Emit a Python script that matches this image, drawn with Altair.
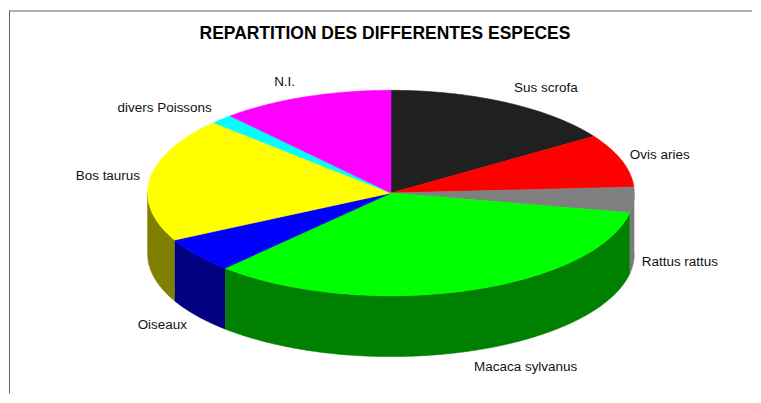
import math
import altair as alt
import pandas as pd

# ---- data ----
species = ["Sus scrofa", "Ovis aries", "Rattus rattus", "Macaca sylvanus",
           "Oiseaux", "Bos taurus", "divers Poissons", "N.I."]
shares = [15.7, 8.4, 4.0, 33.9, 5.5, 19.6, 1.5, 11.5]
top_colors = ["#202020", "#FF0000", "#808080", "#00FF00",
              "#0000FF", "#FFFF00", "#00FFFF", "#FF00FF"]
side_colors = ["#101010", "#800000", "#7A7A7A", "#008000",
               "#000080", "#808000", "#008080", "#800080"]
title_text = "REPARTITION DES DIFFERENTES ESPECES"

# ---- layout (plot coordinates, origin at page (8, 8)) ----
W, H = 745, 386
CX, CY, RX, RY, DEPTH = 383.0, 185.0, 244.0, 103.0, 61.0
FONT = "Liberation Sans"


def pt(t_deg, drop=0.0):
    r = math.radians(t_deg)
    return CX + RX * math.sin(r), CY - RY * math.cos(r) + drop


total = sum(shares)
starts, ends = [], []
acc = 0.0
for v in shares:
    starts.append(acc * 360.0 / total)
    acc += v
    ends.append(acc * 360.0 / total)


def arc(t1, t2, step=0.5):
    n = max(2, int(abs(t2 - t1) / step) + 1)
    return [t1 + (t2 - t1) * i / (n - 1) for i in range(n)]


top_rows, side_rows = [], []
for i, name in enumerate(species):
    t1, t2 = starts[i], ends[i]
    k = 0
    top_rows.append({"part": name, "k": k, "x": CX, "y": CY}); k += 1
    for t in arc(t1, t2):
        x, y = pt(t)
        top_rows.append({"part": name, "k": k, "x": x, "y": y}); k += 1
    top_rows.append({"part": name, "k": k, "x": CX, "y": CY})

    lo, hi = max(t1, 90.0), min(t2, 270.0)
    if hi > lo:
        key = name + " (côté)"
        k = 0
        for t in arc(lo, hi):
            x, y = pt(t)
            side_rows.append({"part": key, "k": k, "x": x, "y": y}); k += 1
        for t in arc(hi, lo):
            x, y = pt(t, DEPTH)
            side_rows.append({"part": key, "k": k, "x": x, "y": y}); k += 1

label_rows = []
for i, name in enumerate(species):
    m = (starts[i] + ends[i]) / 2.0
    r = math.radians(m)
    x, y = pt(m)
    if math.cos(r) < 0:
        y += DEPTH
    y -= 16 * math.cos(r)
    if math.sin(r) >= 0:
        label_rows.append({"label": name, "x": x + 8, "y": y, "side": "right"})
    else:
        label_rows.append({"label": name, "x": x - 10, "y": y, "side": "left"})

top_df = pd.DataFrame(top_rows)
side_df = pd.DataFrame(side_rows)
label_df = pd.DataFrame(label_rows)

dom = species + [s + " (côté)" for s in species]
rng = top_colors + side_colors
xs = alt.X("x:Q", scale=alt.Scale(domain=[0, W], nice=False, zero=False), axis=None)
ys = alt.Y("y:Q", scale=alt.Scale(domain=[0, H], reverse=True, nice=False, zero=False), axis=None)
col = alt.Color("part:N", scale=alt.Scale(domain=dom, range=rng), legend=None)
stk = alt.Stroke("part:N", scale=alt.Scale(domain=dom, range=rng), legend=None)

sides = alt.Chart(side_df).mark_line(filled=True, strokeWidth=0.6, interpolate="linear").encode(
    x=xs, y=ys, color=col, stroke=stk, detail="part:N", order="k:Q")
tops = alt.Chart(top_df).mark_line(filled=True, strokeWidth=0.6, interpolate="linear").encode(
    x=xs, y=ys, color=col, stroke=stk, detail="part:N", order="k:Q")

lab_r = alt.Chart(label_df).transform_filter(alt.datum.side == "right").mark_text(
    align="left", baseline="middle", font=FONT, fontSize=13.5, color="#111111").encode(
    x=xs, y=ys, text="label:N")
lab_l = alt.Chart(label_df).transform_filter(alt.datum.side == "left").mark_text(
    align="right", baseline="middle", font=FONT, fontSize=13.5, color="#111111").encode(
    x=xs, y=ys, text="label:N")

title = alt.Chart(pd.DataFrame({"t": [title_text]})).mark_text(
    align="center", baseline="middle", font=FONT, fontSize=17.5, fontWeight="bold",
    color="#000000").encode(x=alt.value(377), y=alt.value(25.5), text="t:N")

frame_top = alt.Chart(pd.DataFrame({"a": [0]})).mark_rule(color="#606060", strokeWidth=1).encode(
    x=alt.value(0), x2=alt.value(W), y=alt.value(2.5))
frame_left = alt.Chart(pd.DataFrame({"a": [0]})).mark_rule(color="#606060", strokeWidth=1).encode(
    x=alt.value(0.5), y=alt.value(2.5), y2=alt.value(H))

chart = alt.layer(frame_top, frame_left, sides, tops, lab_r, lab_l, title).properties(
    width=W, height=H, padding=0
).configure_view(stroke=None)

chart.save("out.html", embed_options={"renderer": "svg", "actions": False})
